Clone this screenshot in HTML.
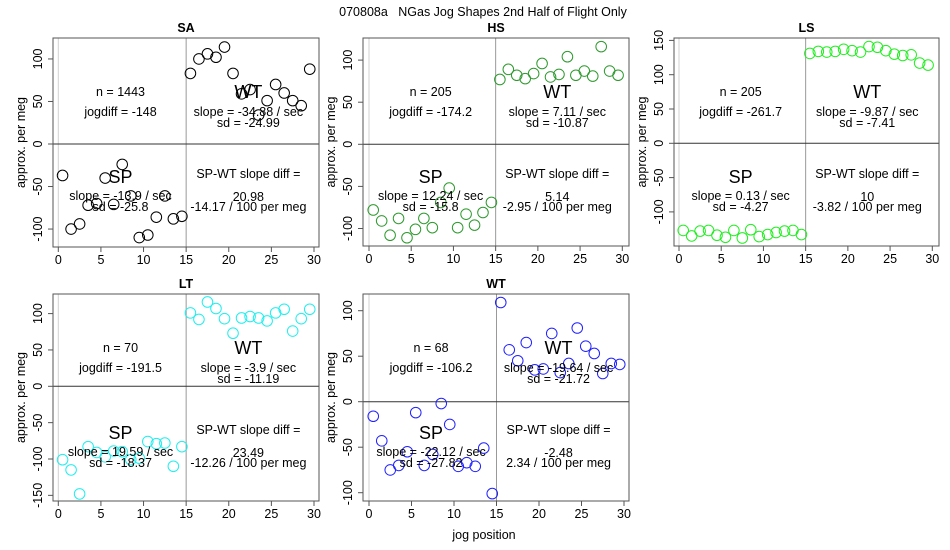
<!DOCTYPE html>
<html><head><meta charset="utf-8"><style>
html,body{margin:0;padding:0;background:#fff}
svg{display:block;font-family:"Liberation Sans",sans-serif}
</style></head><body>
<svg id="chart" width="950" height="550" viewBox="0 0 950 550">
<text x="483" y="16" text-anchor="middle" font-size="12.5" style="white-space:pre">070808a   NGas Jog Shapes 2nd Half of Flight Only</text>
<text x="484" y="539" text-anchor="middle" font-size="12.5">jog position</text>
</svg>
<script>
const positions = [0.5,1.5,2.5,3.5,4.5,5.5,6.5,7.5,8.5,9.5,10.5,11.5,12.5,13.5,14.5,15.5,16.5,17.5,18.5,19.5,20.5,21.5,22.5,23.5,24.5,25.5,26.5,27.5,28.5,29.5];
const xTicks = [0,5,10,15,20,25,30];
const saValues = [-37,-100,-94,-72,-70,-40,-71,-24,-61,-110,-107,-86,-61,-88,-85, 83,100,106,102,114,83,59,64,34,51,70,60,51,45,88];
const hsValues = [-78,-91,-108,-88,-111,-101,-88,-99,-69,-52,-99,-83,-96,-81,-69, 77,89,82,78,84,96,80,83,104,82,87,81,116,87,82];
const lsValues = [-127,-135,-128,-127,-134,-137,-127,-138,-126,-136,-133,-130,-128,-127,-133, 131,134,133,134,137,135,133,141,140,135,130,128,129,117,114];
const ltValues = [-101,-115,-148,-83,-91,-97,-89,-90,-101,-99,-76,-79,-78,-110,-83, 101,92,116,107,93,73,94,96,94,90,101,106,76,93,106];
const wtValues = [-16,-43,-75,-70,-55,-12,-70,-58,-2,-25,-71,-67,-71,-51,-101, 109,57,45,65,35,36,75,32,42,81,61,53,31,42,41];
const saYTicks = [-100,-50,0,50,100];
const hsYTicks = [-100,-50,0,50,100];
const lsYTicks = [-100,-50,0,50,100,150];
const ltYTicks = [-150,-100,-50,0,50,100];
const wtYTicks = [-100,-50,0,50,100];
const saText = ["n = 1443","jogdiff = -148","slope = -34.88 / sec","sd = -24.99","slope = -13.9 / sec","sd = -25.8","20.98","-14.17 / 100 per meg"];
const hsText = ["n = 205","jogdiff = -174.2","slope = 7.11 / sec","sd = -10.87","slope = 12.24 / sec","sd = -15.8","5.14","-2.95 / 100 per meg"];
const lsText = ["n = 205","jogdiff = -261.7","slope = -9.87 / sec","sd = -7.41","slope = 0.13 / sec","sd = -4.27","10","-3.82 / 100 per meg"];
const ltText = ["n = 70","jogdiff = -191.5","slope = -3.9 / sec","sd = -11.19","slope = 19.59 / sec","sd = -18.37","23.49","-12.26 / 100 per meg"];
const wtText = ["n = 68","jogdiff = -106.2","slope = -19.64 / sec","sd = -21.72","slope = -22.12 / sec","sd = -27.82","-2.48","2.34 / 100 per meg"];

const NS="http://www.w3.org/2000/svg";
const svg=document.getElementById('chart');
function mk(tag,attrs,parent,txt){const e=document.createElementNS(NS,tag);for(const k in attrs)e.setAttribute(k,attrs[k]);if(txt!==undefined)e.textContent=txt;(parent||svg).appendChild(e);return e;}

const panels=[
 {id:'sa',title:'SA',vals:saValues,yt:saYTicks,txt:saText,color:'#000000',L:53,R:319,T:38,B:247,x0:58.3,x30:314,y0:144,k:0.8505},
 {id:'hs',title:'HS',vals:hsValues,yt:hsYTicks,txt:hsText,color:'#2e9a2e',L:363,R:629,T:38,B:246,x0:369,x30:622.3,y0:144.3,k:0.842},
 {id:'ls',title:'LS',vals:lsValues,yt:lsYTicks,txt:lsText,color:'#22ee22',L:674,R:939,T:38,B:246,x0:679,x30:932.3,y0:143.3,k:0.686},
 {id:'lt',title:'LT',vals:ltValues,yt:ltYTicks,txt:ltText,color:'#22eeee',L:53,R:319,T:294,B:501,x0:58.3,x30:314,y0:386.3,k:0.727},
 {id:'wt',title:'WT',vals:wtValues,yt:wtYTicks,txt:wtText,color:'#2222ff',L:363,R:629,T:294,B:501,x0:369,x30:624,y0:401.7,k:0.91}
];

panels.forEach(p=>{
 const g=mk('g',{});
 
 
 const xs=v=>p.x0+v*(p.x30-p.x0)/30;
 const ys=v=>p.y0-v*p.k;
 const cx=(p.L+p.R)/2;
 const t=mk('text',{x:cx,y:p.T-6,'text-anchor':'middle','font-size':12.5,'font-weight':'bold'},g,p.title);
 
 
 const l0=mk('line',{x1:xs(0),x2:xs(0),y1:p.T,y2:p.B,stroke:'#d0d0d0','stroke-width':1},g);
 
 
 const l15=mk('line',{x1:xs(15),x2:xs(15),y1:p.T,y2:p.B,stroke:'#999','stroke-width':1},g);
 
 
 const h0=mk('line',{x1:p.L,x2:p.R,y1:ys(0),y2:ys(0),stroke:'#333','stroke-width':1},g);
 
 
 const box=mk('rect',{x:p.L,y:p.T,width:p.R-p.L,height:p.B-p.T,fill:'none',stroke:'#555','stroke-width':1},g);
 
 
 xTicks.forEach(v=>{
  mk('line',{x1:xs(v),x2:xs(v),y1:p.B,y2:p.B+5,stroke:'#555'},g);
  const tl=mk('text',{x:xs(v),y:p.B+17,'text-anchor':'middle','font-size':12.5},g,v);
  
  
 });
 p.yt.forEach(v=>{
  mk('line',{x1:p.L,x2:p.L-5,y1:ys(v),y2:ys(v),stroke:'#555'},g);
  const tl=mk('text',{x:p.L-11,y:ys(v),'text-anchor':'middle','font-size':12.5,transform:`rotate(-90 ${p.L-11} ${ys(v)})`},g,v);
  
  
 });
 const yt=mk('text',{x:p.L-28,y:(p.T+p.B)/2,'text-anchor':'middle','font-size':12.5,transform:`rotate(-90 ${p.L-28} ${(p.T+p.B)/2})`},g,'approx. per meg');
 
 
 p.vals.forEach((v,i)=>{
  const c=mk('circle',{cx:xs(positions[i]),cy:ys(v),r:5.3,fill:'none',stroke:p.color,'stroke-width':1},g);
  
  
 });
 const lx=p.x0+7.3*(p.x30-p.x0)/30, rx=p.x0+22.3*(p.x30-p.x0)/30;
 const T=p.T;
 const items=[
  [lx,T+58,12.5,p.txt[0],'n-label'],[lx,T+78,12.5,p.txt[1],'jogdiff-label'],
  [rx,T+60,18,'WT','wt-label'],[rx,T+78,12.5,p.txt[2],'wt-slope'],[rx,T+89,12.5,p.txt[3],'wt-sd'],
  [lx,T+145,18,'SP','sp-label'],[lx,T+162,12.5,p.txt[4],'sp-slope'],[lx,T+173,12.5,p.txt[5],'sp-sd'],
  [rx,T+140,12.5,'SP-WT slope diff =','diff-label'],[rx,T+163,12.5,p.txt[6],'diff-value'],[rx,T+173,12.5,p.txt[7],'diff-per-meg']
 ];
 items.forEach(a=>{
  const e=mk('text',{x:a[0],y:a[1],'text-anchor':'middle','font-size':a[2]},g,a[3]);
  
  
 });
});
</script>
</body></html>
